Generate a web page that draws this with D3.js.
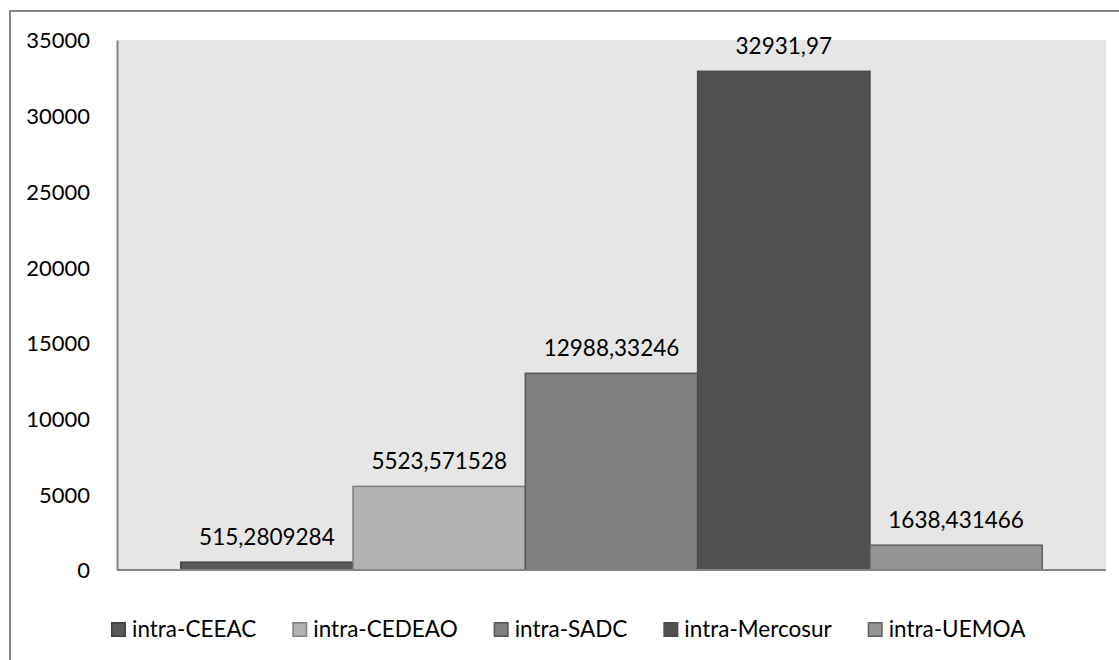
<!DOCTYPE html>
<html>
<head>
<meta charset="utf-8">
<script src="https://cdn.jsdelivr.net/npm/d3@7"></script>
<style>
  html, body { margin: 0; padding: 0; background: #ffffff; }
  svg { display: block; }
  text { font-family: Lato, "Open Sans", "Noto Sans", sans-serif; fill: #000; }
</style>
</head>
<body>
<svg id="chart" width="1119" height="660"></svg>
<script>
// Trade values by regional grouping
const series = ["intra-CEEAC", "intra-CEDEAO", "intra-SADC", "intra-Mercosur", "intra-UEMOA"];
const values = [515.2809284, 5523.571528, 12988.33246, 32931.97, 1638.431466];
const valueLabels = ["515,2809284", "5523,571528", "12988,33246", "32931,97", "1638,431466"];
const yTicks = [0, 5000, 10000, 15000, 20000, 25000, 30000, 35000];

const fills   = ["#595959", "#b2b2b2", "#808080", "#505050", "#959595"];
const strokes = ["#404040", "#7f7f7f", "#555555", "#4a4a4a", "#5f5f5f"];

const svg = d3.select("#chart");
const W = 1119, H = 660;
const plot = { left: 117, right: 1106, top: 40, bottom: 570 };
const fontSize = 22.5;

// outer chart frame
svg.append("rect")
  .attr("x", 10).attr("y", 11)
  .attr("width", W + 20).attr("height", H + 20)
  .attr("fill", "#fff").attr("stroke", "#868686").attr("stroke-width", 2);

// plot background
svg.append("rect")
  .attr("x", plot.left).attr("y", plot.top)
  .attr("width", plot.right - plot.left).attr("height", plot.bottom - plot.top)
  .attr("fill", "#e6e6e6");

const x = d3.scaleBand()
  .domain(series)
  .range([plot.left, plot.right])
  .paddingInner(0)
  .paddingOuter(0.37);

const y = d3.scaleLinear()
  .domain([0, 35000])
  .range([plot.bottom, plot.top]);

// bars
svg.append("g").selectAll("rect")
  .data(series)
  .join("rect")
  .attr("x", d => x(d))
  .attr("y", (d, i) => y(values[i]))
  .attr("width", x.bandwidth())
  .attr("height", (d, i) => y(0) - y(values[i]))
  .attr("fill", (d, i) => fills[i])
  .attr("stroke", (d, i) => strokes[i])
  .attr("stroke-width", 1.5);

// y axis
const yAxis = d3.axisLeft(y).tickValues(yTicks).tickSize(0).tickPadding(27)
  .tickFormat(d3.format("d"));
const ga = svg.append("g").attr("transform", `translate(${plot.left},0)`).call(yAxis);
ga.select(".domain").attr("stroke", "#868686").attr("stroke-width", 2);
ga.selectAll("text")
  .attr("font-size", fontSize - 0.5)
  .attr("font-family", 'Lato, "Open Sans", sans-serif')
  .attr("fill", "#000")
  .attr("dy", "0.36em");

// baseline
svg.append("line")
  .attr("x1", plot.left).attr("x2", plot.right)
  .attr("y1", y(0)).attr("y2", y(0))
  .attr("stroke", "#868686").attr("stroke-width", 2);

// value labels
svg.append("g").selectAll("text")
  .data(series)
  .join("text")
  .attr("x", d => x(d) + x.bandwidth() / 2)
  .attr("y", (d, i) => y(values[i]) - 17)
  .attr("text-anchor", "middle")
  .attr("font-size", fontSize)
  .text((d, i) => valueLabels[i]);

// legend
const legend = svg.append("g");
let lx = 111;
const ly = 637;
series.forEach((s, i) => {
  const g = legend.append("g");
  g.append("rect")
    .attr("x", lx + 0.75).attr("y", ly - 14.25)
    .attr("width", 13.5).attr("height", 13.5)
    .attr("fill", fills[i]).attr("stroke", strokes[i]).attr("stroke-width", 1.5);
  const t = g.append("text")
    .attr("x", lx + 21).attr("y", ly)
    .attr("font-size", fontSize)
    .text(s);
  const w = t.node().getComputedTextLength();
  lx = lx + 21 + w + 36;
});
</script>
</body>
</html>
